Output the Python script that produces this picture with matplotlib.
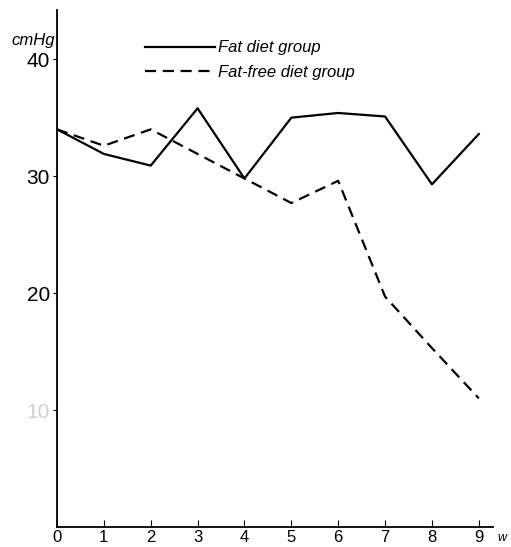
import matplotlib.pyplot as plt
import numpy as np

weeks = [0, 1, 2, 3, 4, 5, 6, 7, 8, 9]
fat_diet = [34.0, 31.9, 30.9, 35.8, 29.8, 35.0, 35.4, 35.1, 29.3, 33.6]
fat_free_diet = [34.0, 32.6, 34.0, 31.9, 29.8, 27.7, 29.6, 19.7, 15.3, 11.0]
y_ticks = [10, 20, 30, 40]
x_labels = ["0", "1", "2", "3", "4", "5", "6", "7", "8", "9"]

plt.rcParams['font.family'] = ['Liberation Sans', 'DejaVu Sans']

fig = plt.figure(figsize=(5.11, 5.47), dpi=100)
ax = fig.add_axes([0.1115, 0.0366, 0.853, 0.945])

ax.plot(weeks, fat_diet, color="black", linewidth=1.6, label="Fat diet group")
ax.plot(weeks, fat_free_diet, color="black", linewidth=1.6, linestyle=(0, (5, 3)),
        label="Fat-free diet group")

ax.set_xlim(0, 9.3)
ax.set_ylim(0, 44.2)
ax.spines["top"].set_visible(False)
ax.spines["right"].set_visible(False)
ax.spines["left"].set_linewidth(1.3)
ax.spines["bottom"].set_linewidth(1.3)

ax.set_xticks(weeks)
ax.set_xticklabels(x_labels, fontsize=12)
ax.tick_params(axis="x", direction="in", length=5, pad=2)
ax.set_yticks(y_ticks)
ax.set_yticklabels([str(v) for v in y_ticks], fontsize=15)
ax.tick_params(axis="y", direction="out", length=3, pad=2)
ax.get_yticklabels()[0].set_color("#d0d0d0")

ax.text(-0.98, 41.6, "cmHg", fontsize=12, style="italic", ha="left", va="center")
ax.text(9.4, -0.9, "w", fontsize=9, style="italic", ha="left", va="center")

ax.legend(loc="upper left", bbox_to_anchor=(0.284, 0.926), bbox_transform=fig.transFigure,
          frameon=False, prop={"style": "italic", "size": 12}, handlelength=4.2,
          handletextpad=0.2, labelspacing=0.55, borderaxespad=0, borderpad=0)

fig.savefig("out.png", dpi=100)
